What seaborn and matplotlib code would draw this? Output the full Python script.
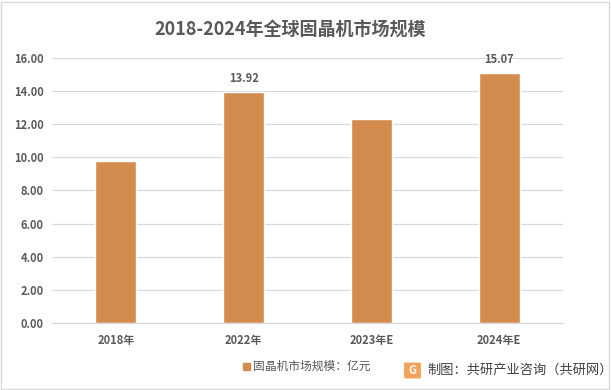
import numpy as np
import matplotlib.pyplot as plt
import seaborn as sns
import pandas as pd
from matplotlib.patches import Rectangle, FancyBboxPatch

years = ['2018年', '2022年', '2023年E', '2024年E']
market_size = [9.78, 13.92, 12.32, 15.07]
labeled = [False, True, False, True]
y_ticks = [0, 2, 4, 6, 8, 10, 12, 14, 16]

title = '2018-2024年全球固晶机市场规模'
legend_label = '固晶机市场规模：亿元'
source_text = '制图：共研产业咨询（共研网）'

bar_color = '#D38B4E'
text_gray = '#595959'

sns.set_style('white')
plt.rcParams['font.family'] = ['Noto Sans CJK SC', 'DejaVu Sans']

df = pd.DataFrame({'year': years, 'size': market_size})

fig = plt.figure(figsize=(6.11, 3.90), dpi=100)
ax = fig.add_axes([52 / 611, (390 - 323) / 390, (563 - 52) / 611, (323 - 58) / 390])

sns.barplot(data=df, x='year', y='size', ax=ax, color=bar_color, width=0.32,
            saturation=1, label=legend_label, legend=False)

ax.set_ylim(0, 16)
ax.set_xlim(-0.5, 3.5)
ax.set_yticks(y_ticks)
ax.set_yticklabels([f'{v:.2f}' for v in y_ticks], fontsize=8, fontweight='bold', color=text_gray)
ax.set_xticks(range(len(years)))
ax.set_xticklabels(years, fontsize=8, fontweight='bold', color=text_gray)
ax.tick_params(axis='both', length=0, pad=6)
ax.tick_params(axis='x', pad=8)
ax.yaxis.grid(True, color='#D9D9D9', linewidth=0.9)
ax.set_axisbelow(True)
for s in ['top', 'right', 'left']:
    ax.spines[s].set_visible(False)
ax.spines['bottom'].set_color('#D9D9D9')
ax.set_xlabel('')
ax.set_ylabel('')

for i, (v, lab) in enumerate(zip(market_size, labeled)):
    if lab:
        ax.text(i, v + 0.45, f'{v:.2f}', ha='center', va='bottom', fontsize=8,
                fontweight='bold', color=text_gray)

fig.text(290 / 611, 1 - 30 / 390, title, ha='center', va='center', fontsize=13,
         fontweight='bold', color=text_gray)

# legend
fig.patches.append(Rectangle((243 / 611, 1 - 370 / 390), 7 / 611, 7 / 390,
                             transform=fig.transFigure, color=bar_color))
fig.text(253 / 611, 1 - 366 / 390, legend_label, ha='left', va='center',
         fontsize=8.5, color=text_gray)

# source with logo
fig.patches.append(FancyBboxPatch((406 / 611, 1 - 377 / 390), 13 / 611, 13 / 390,
                                  boxstyle='round,pad=0.002', transform=fig.transFigure,
                                  color='#F4A259'))
fig.text(412.5 / 611, 1 - 370.5 / 390, 'G', ha='center', va='center', fontsize=8,
         fontweight='bold', color='white')
fig.text(427 / 611, 1 - 370 / 390, source_text, ha='left', va='center',
         fontsize=9.5, color='#404040')

# outer border
fig.patches.append(Rectangle((1 / 611, 1 / 390), 608 / 611, 387 / 390, transform=fig.transFigure,
                             fill=False, edgecolor='#D9D9D9', linewidth=1))

fig.savefig('out.png', dpi=100)
